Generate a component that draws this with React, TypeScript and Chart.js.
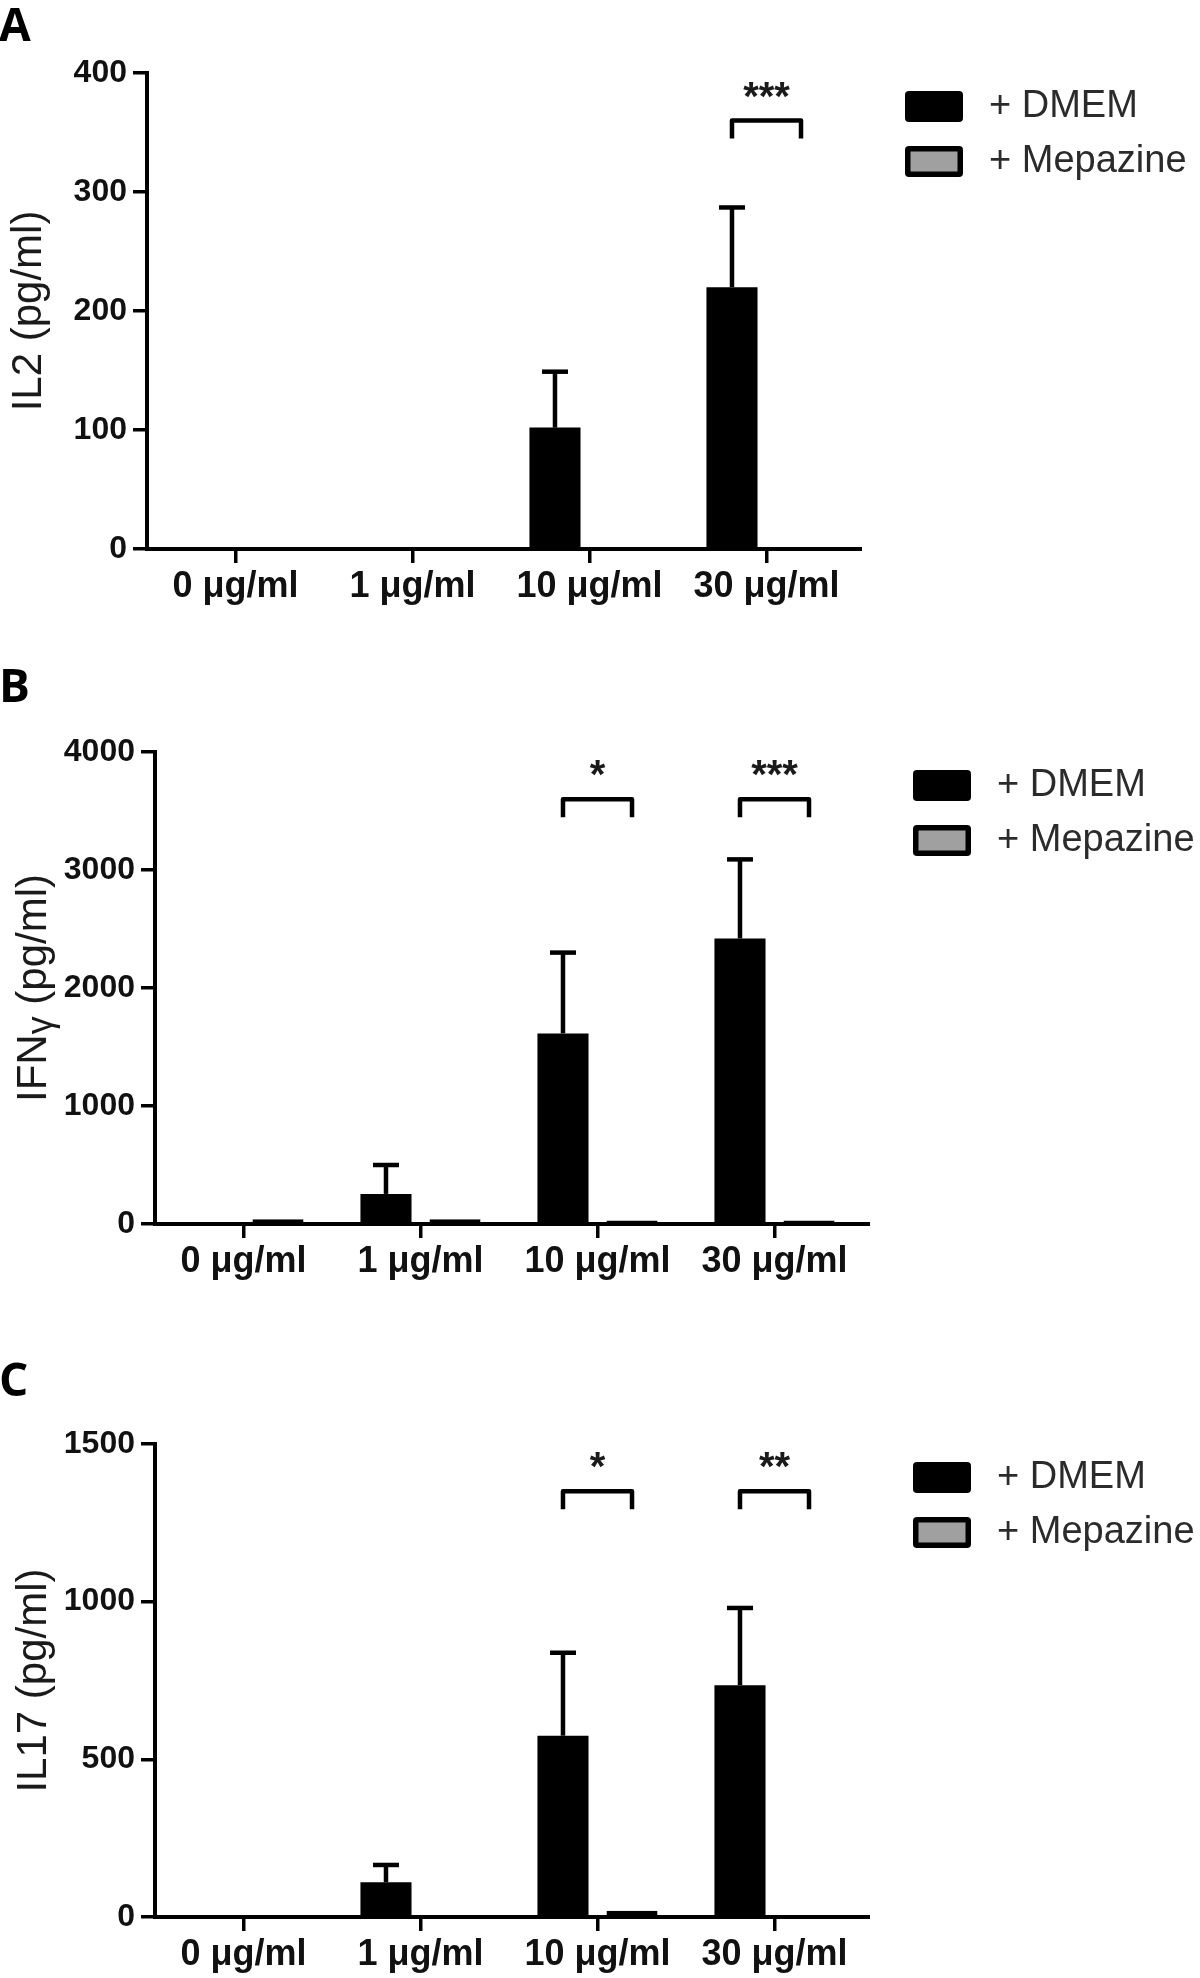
import React, { useEffect, useRef } from 'react';
import { Chart, registerables } from 'chart.js';

Chart.register(...registerables);

// ---------------- data ----------------
const categories = ['0 μg/ml', '1 μg/ml', '10 μg/ml', '30 μg/ml'];
const seriesNames = ['+ DMEM', '+ Mepazine'];
const seriesColors = ['#000000', '#a0a0a0'];

const il2Dmem = [0, 0, 102, 220];
const il2DmemErr = [0, 0, 47, 67];
const il2Mep = [0, 0, 0, 0];
const il2Ticks = [0, 100, 200, 300, 400];
const il2Stars = ['', '', '', '***'];

const ifngDmem = [0, 255, 1615, 2420];
const ifngDmemErr = [0, 245, 685, 670];
const ifngMep = [40, 40, 30, 30];
const ifngTicks = [0, 1000, 2000, 3000, 4000];
const ifngStars = ['', '', '*', '***'];

const il17Dmem = [0, 110, 575, 735];
const il17DmemErr = [0, 55, 263, 245];
const il17Mep = [0, 0, 20, 0];
const il17Ticks = [0, 500, 1000, 1500];
const il17Stars = ['', '', '*', '**'];

const FONT = '"Liberation Sans", Arial, Helvetica, sans-serif';

type Panel = {
  letter: string;
  title: [string, string, string];
  dmem: number[];
  dmemErr: number[];
  mep: number[];
  ticks: number[];
  stars: string[];
  bracketFrac: number;
  canvasTop: number;
  canvasHeight: number;
  area: { left: number; top: number; bottom: number; right: number };
  letterBaseline: number;
  titleX: number;
};

const panels: Panel[] = [
  {
    letter: 'A', title: ['IL2 (pg/ml)', '', ''],
    dmem: il2Dmem, dmemErr: il2DmemErr, mep: il2Mep, ticks: il2Ticks, stars: il2Stars,
    bracketFrac: 0.9,
    canvasTop: 0, canvasHeight: 620,
    area: { left: 147, top: 73, bottom: 549, right: 855 },
    letterBaseline: 41, titleX: 41,
  },
  {
    letter: 'B', title: ['IFN', 'γ', ' (pg/ml)'],
    dmem: ifngDmem, dmemErr: ifngDmemErr, mep: ifngMep, ticks: ifngTicks, stars: ifngStars,
    bracketFrac: 0.9,
    canvasTop: 620, canvasHeight: 690,
    area: { left: 155, top: 752, bottom: 1224, right: 863 },
    letterBaseline: 702, titleX: 46,
  },
  {
    letter: 'C', title: ['IL17 (pg/ml)', '', ''],
    dmem: il17Dmem, dmemErr: il17DmemErr, mep: il17Mep, ticks: il17Ticks, stars: il17Stars,
    bracketFrac: 0.9,
    canvasTop: 1310, canvasHeight: 668,
    area: { left: 155, top: 1444, bottom: 1917, right: 863 },
    letterBaseline: 1396, titleX: 46,
  },
];

function roundRect(ctx: CanvasRenderingContext2D, x: number, y: number, w: number, h: number, r: number) {
  ctx.beginPath();
  ctx.moveTo(x + r, y);
  ctx.lineTo(x + w - r, y);
  ctx.quadraticCurveTo(x + w, y, x + w, y + r);
  ctx.lineTo(x + w, y + h - r);
  ctx.quadraticCurveTo(x + w, y + h, x + w - r, y + h);
  ctx.lineTo(x + r, y + h);
  ctx.quadraticCurveTo(x, y + h, x, y + h - r);
  ctx.lineTo(x, y + r);
  ctx.quadraticCurveTo(x, y, x + r, y);
  ctx.closePath();
}

const decorPlugin = {
  id: 'panelDecor',
  afterDatasetsDraw(chart: any) {
    const ctx: CanvasRenderingContext2D = chart.ctx;
    const yScale = chart.scales.y;
    chart.data.datasets.forEach((ds: any, di: number) => {
      const errs: number[] | undefined = ds.errors;
      if (!errs) return;
      const meta = chart.getDatasetMeta(di);
      meta.data.forEach((bar: any, i: number) => {
        const e = errs[i];
        if (!e) return;
        const v = ds.data[i];
        const x = bar.x;
        const y0 = yScale.getPixelForValue(v);
        const y1 = yScale.getPixelForValue(v + e);
        ctx.save();
        ctx.strokeStyle = '#000';
        ctx.lineWidth = 4.5;
        ctx.beginPath();
        ctx.moveTo(x, y0);
        ctx.lineTo(x, y1);
        ctx.stroke();
        ctx.beginPath();
        ctx.moveTo(x - 13, y1);
        ctx.lineTo(x + 13, y1);
        ctx.stroke();
        ctx.restore();
      });
    });
  },
  afterDraw(chart: any, _args: any, opts: any) {
    const ctx: CanvasRenderingContext2D = chart.ctx;
    const area = chart.chartArea;
    const yScale = chart.scales.y;
    const m0 = chart.getDatasetMeta(0);
    const m1 = chart.getDatasetMeta(1);
    ctx.save();

    // x-axis extension to the right
    ctx.strokeStyle = '#000';
    ctx.lineWidth = 4;
    ctx.beginPath();
    ctx.moveTo(area.right - 1, area.bottom);
    ctx.lineTo(area.right + 7, area.bottom);
    ctx.stroke();

    // significance brackets
    const stars: string[] = opts.stars;
    const yMax = yScale.max;
    stars.forEach((s, i) => {
      if (!s) return;
      const x0 = m0.data[i].x;
      const x1 = m1.data[i].x;
      const y = yScale.getPixelForValue(yMax * opts.bracketFrac);
      ctx.strokeStyle = '#000';
      ctx.lineWidth = 4.5;
      ctx.lineJoin = 'round';
      ctx.beginPath();
      ctx.moveTo(x0, y + 18);
      ctx.lineTo(x0, y);
      ctx.lineTo(x1, y);
      ctx.lineTo(x1, y + 18);
      ctx.stroke();
      ctx.fillStyle = '#1a1a1a';
      ctx.font = `bold 40px ${FONT}`;
      ctx.textAlign = 'center';
      ctx.textBaseline = 'alphabetic';
      ctx.fillText(s, (x0 + x1) / 2, y - 34 + 23);
    });

    // legend
    const lx = area.right + 50;
    const ly = area.top + 18;
    chart.data.datasets.forEach((ds: any, di: number) => {
      const by = ly + di * 55;
      ctx.fillStyle = '#000';
      roundRect(ctx, lx, by, 58, 31, 4);
      ctx.fill();
      if (di === 1) {
        ctx.fillStyle = ds.backgroundColor;
        ctx.fillRect(lx + 5.5, by + 5.5, 58 - 11, 31 - 11);
      }
      ctx.fillStyle = '#2b2b2b';
      ctx.font = `38px ${FONT}`;
      ctx.textAlign = 'left';
      ctx.textBaseline = 'middle';
      ctx.fillText(ds.label, lx + 84, by + 16);
    });

    // panel letter
    ctx.fillStyle = '#000';
    ctx.font = 'bold 46px "Open Sans", Lato, sans-serif';
    ctx.textAlign = 'left';
    ctx.textBaseline = 'alphabetic';
    ctx.fillText(opts.letter, -1, opts.letterBaseline);

    // y-axis title (rotated)
    const [main, sub, rest] = opts.title as string[];
    const fs = 42;
    const subFs = 36;
    ctx.font = `${fs}px ${FONT}`;
    const wMain = ctx.measureText(main).width;
    const wRest = ctx.measureText(rest).width;
    ctx.font = `${subFs}px ${FONT}`;
    const wSub = sub ? ctx.measureText(sub).width : 0;
    const total = wMain + wSub + wRest;
    const cy = (area.top + area.bottom) / 2;
    ctx.translate(opts.titleX, cy);
    ctx.rotate(-Math.PI / 2);
    ctx.fillStyle = '#1a1a1a';
    ctx.textAlign = 'left';
    ctx.textBaseline = 'alphabetic';
    let tx = -total / 2;
    ctx.font = `${fs}px ${FONT}`;
    ctx.fillText(main, tx, 0);
    tx += wMain;
    if (sub) {
      ctx.font = `${subFs}px ${FONT}`;
      ctx.fillText(sub, tx, 6);
      tx += wSub;
    }
    ctx.font = `${fs}px ${FONT}`;
    ctx.fillText(rest, tx, 0);
    ctx.restore();
  },
};

function PanelChart({ p }: { p: Panel }) {
  const ref = useRef<HTMLCanvasElement | null>(null);
  useEffect(() => {
    const canvas = ref.current;
    if (!canvas) return;
    const top = p.area.top - p.canvasTop;
    const bottom = p.area.bottom - p.canvasTop;
    const xScaleH = 64;
    const chart = new Chart(canvas, {
      type: 'bar',
      data: {
        labels: categories,
        datasets: [
          {
            label: seriesNames[0],
            data: p.dmem,
            errors: p.dmemErr,
            backgroundColor: seriesColors[0],
            borderWidth: 0,
            categoryPercentage: 0.78,
            barPercentage: 0.74,
          } as any,
          {
            label: seriesNames[1],
            data: p.mep,
            backgroundColor: seriesColors[1],
            borderColor: '#000000',
            borderWidth: 3.5,
            borderSkipped: false,
            categoryPercentage: 0.78,
            barPercentage: 0.74,
          } as any,
        ],
      },
      options: {
        responsive: false,
        animation: false,
        devicePixelRatio: 1,
        events: [],
        layout: {
          padding: {
            left: 0,
            top: top,
            right: 1200 - p.area.right,
            bottom: p.canvasHeight - bottom - xScaleH,
          },
        },
        plugins: {
          legend: { display: false },
          tooltip: { enabled: false },
          title: { display: false },
          panelDecor: {
            stars: p.stars,
            bracketFrac: p.bracketFrac,
            letter: p.letter,
            letterBaseline: p.letterBaseline - p.canvasTop,
            title: p.title,
            titleX: p.titleX,
          },
        } as any,
        scales: {
          x: {
            type: 'category',
            offset: true,
            grid: {
              display: true,
              drawOnChartArea: false,
              drawTicks: true,
              tickLength: 14,
              offset: false,
              color: '#000',
              lineWidth: 3.5,
            },
            border: { display: true, color: '#000', width: 4 },
            ticks: {
              color: '#111',
              font: { family: FONT, size: 36, weight: 'bold' },
              padding: 2,
              maxRotation: 0,
              autoSkip: false,
            },
            afterFit: (s: any) => {
              s.height = xScaleH;
            },
          },
          y: {
            min: 0,
            max: p.ticks[p.ticks.length - 1],
            afterBuildTicks: (s: any) => {
              s.ticks = p.ticks.map((v) => ({ value: v }));
            },
            grid: {
              display: true,
              drawOnChartArea: false,
              drawTicks: true,
              tickLength: 14,
              color: '#000',
              lineWidth: 3.5,
            },
            border: { display: true, color: '#000', width: 4 },
            ticks: {
              color: '#111',
              font: { family: FONT, size: 32, weight: 'bold' },
              padding: 6,
              callback: (v: any) => String(v),
            },
            afterFit: (s: any) => {
              s.width = p.area.left;
            },
          },
        },
      } as any,
      plugins: [decorPlugin as any],
    });
    return () => chart.destroy();
  }, [p]);
  return (
    <canvas
      ref={ref}
      width={1200}
      height={p.canvasHeight}
      style={{ position: 'absolute', left: 0, top: p.canvasTop, width: 1200, height: p.canvasHeight }}
    />
  );
}

export default function App() {
  return (
    <div style={{ position: 'absolute', left: 0, top: 0, width: 1200, height: 1978, background: '#ffffff' }}>
      {panels.map((p) => (
        <PanelChart key={p.letter} p={p} />
      ))}
    </div>
  );
}
